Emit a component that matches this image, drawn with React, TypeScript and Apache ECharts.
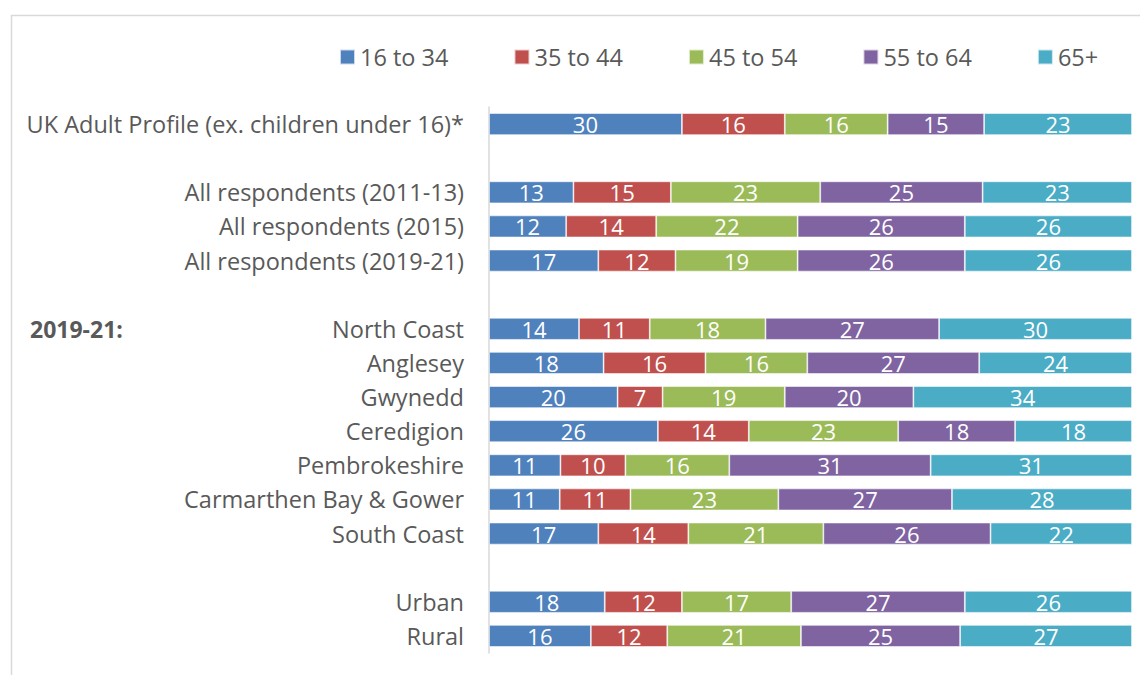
import React, { useEffect, useRef } from "react";
import * as echarts from "echarts";

const categories = [
  "UK Adult Profile (ex. children under 16)*",
  " ",
  "All respondents (2011-13)",
  "All respondents (2015)",
  "All respondents (2019-21)",
  "  ",
  "North Coast",
  "Anglesey",
  "Gwynedd",
  "Ceredigion",
  "Pembrokeshire",
  "Carmarthen Bay & Gower",
  "South Coast",
  "   ",
  "Urban",
  "Rural",
];

const seriesNames = ["16 to 34", "35 to 44", "45 to 54", "55 to 64", "65+"];

const age16to34 = [30, null, 13, 12, 17, null, 14, 18, 20, 26, 11, 11, 17, null, 18, 16];
const age35to44 = [16, null, 15, 14, 12, null, 11, 16, 7, 14, 10, 11, 14, null, 12, 12];
const age45to54 = [16, null, 23, 22, 19, null, 18, 16, 19, 23, 16, 23, 21, null, 17, 21];
const age55to64 = [15, null, 25, 26, 26, null, 27, 27, 20, 18, 31, 27, 26, null, 27, 25];
const age65plus = [23, null, 23, 26, 26, null, 30, 24, 34, 18, 31, 28, 22, null, 26, 27];

const colors = ["#4F81BD", "#C0504D", "#9BBB59", "#8064A2", "#4BACC6"];

const FONT = "'Open Sans', sans-serif";

export default function App() {
  const ref = useRef<HTMLDivElement>(null);

  useEffect(() => {
    if (!ref.current) return;
    const chart = echarts.init(ref.current, null, { renderer: "svg" });
    const allSeries = [age16to34, age35to44, age45to54, age55to64, age65plus];
    const totals = categories.map((_, i) =>
      allSeries.reduce((s, arr) => s + (arr[i] ?? 0), 0)
    );

    const series = allSeries.map((arr, si) => ({
      name: seriesNames[si],
      type: "bar",
      stack: "total",
      barWidth: 22,
      itemStyle: {
        color: colors[si],
        borderColor: "rgba(255,255,255,0.7)",
        borderWidth: 0.8,
      },
      label: {
        show: true,
        position: "inside",
        color: "#ffffff",
        fontFamily: FONT,
        fontSize: 22,
        formatter: (p: any) => (arr[p.dataIndex] == null ? "" : String(arr[p.dataIndex])),
      },
      data: arr.map((v, i) => (v == null ? null : (v / totals[i]) * 100)),
    }));

    chart.setOption({
      animation: false,
      color: colors,
      legend: {
        data: seriesNames,
        top: 32,
        left: 326,
        itemWidth: 15,
        itemHeight: 15,
        itemGap: 65,
        icon: "rect",
        textStyle: {
          color: "#595959",
          fontFamily: FONT,
          fontSize: 23.5,
        },
      },
      grid: {
        left: 481,
        right: 16,
        top: 99,
        height: 546,
        containLabel: false,
      },
      xAxis: {
        type: "value",
        min: 0,
        max: 100,
        show: false,
      },
      yAxis: {
        type: "category",
        data: categories,
        inverse: true,
        axisLine: { show: true, lineStyle: { color: "#D9D9D9", width: 1.5 } },
        axisTick: { show: false },
        axisLabel: {
          color: "#595959",
          fontFamily: FONT,
          fontSize: 23.5,
          margin: 25,
        },
      },
      graphic: [
        {
          type: "rect",
          left: 1,
          top: 5,
          shape: { x: 0, y: 0, width: 1300, height: 900 },
          style: { fill: "none", stroke: "#D9D9D9", lineWidth: 1.5 },
          silent: true,
        },
        {
          type: "text",
          x: 22,
          y: 321,
          style: {
            text: "2019-21:",
            fill: "#595959",
            font: `bold 23px ${FONT}`,
            textVerticalAlign: "middle",
          },
        },
      ],
      series,
    });
    return () => chart.dispose();
  }, []);

  return <div ref={ref} style={{ width: 1140, height: 667 }} />;
}
